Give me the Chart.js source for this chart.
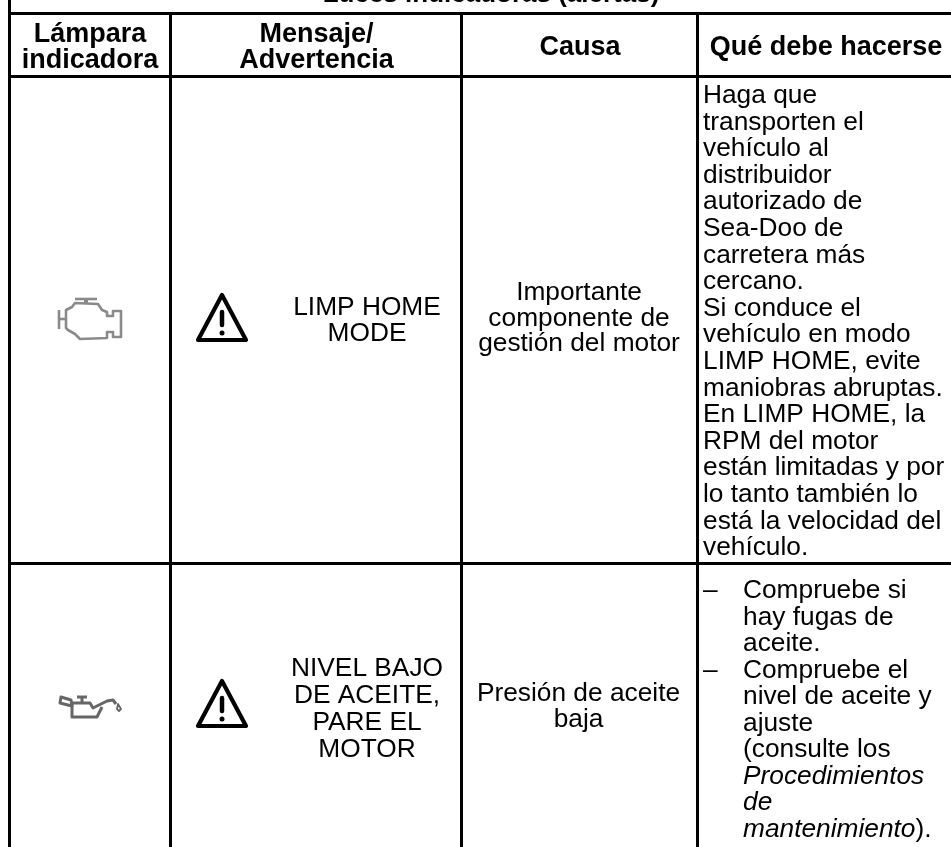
<!DOCTYPE html>
<html><head><meta charset="utf-8">
<style>html,body{margin:0;padding:0;background:#fff}#w{position:relative;width:951px;height:847px;overflow:hidden}canvas{display:block}</style>
<script src="https://cdn.jsdelivr.net/npm/chart.js@4"></script></head>
<body><div id="w"><canvas id="c" width="951" height="847"></canvas></div>
<script>
const FONT='"Liberation Sans"';
const columnRules=[9.5,170.5,461.5,697.5];
const rowRules=[13.5,76.5,563.5];
const titleText=['Luces indicadoras (alertas)'];
const headers=[
 {x:90,y:[41.5,68],t:['Lámpara','indicadora']},
 {x:316.5,y:[41.5,68],t:['Mensaje/','Advertencia']},
 {x:580,y:[55],t:['Causa']},
 {x:826,y:[55],t:['Qué debe hacerse']}];
const messages=[
 {x:367,y:[315,341],t:['LIMP HOME','MODE']},
 {x:367,y:[676,703,730,757],t:['NIVEL BAJO','DE ACEITE,','PARE EL','MOTOR']}];
const causes=[
 {x:579,y:[300,325.5,351],t:['Importante','componente de','gestión del motor']},
 {x:578.5,y:[701,727],t:['Presión de aceite','baja']}];
const actionsA=['Haga que','transporten el','vehículo al','distribuidor','autorizado de','Sea-Doo de','carretera más','cercano.','Si conduce el','vehículo en modo','LIMP HOME, evite','maniobras abruptas.','En LIMP HOME, la','RPM del motor','están limitadas y por','lo tanto también lo','está la velocidad del','vehículo.'];
const actionsB=[['Compruebe si',0],['hay fugas de',0],['aceite.',0],['Compruebe el',0],['nivel de aceite y',0],['ajuste',0],['(consulte los',0],['Procedimientos',1],['de',1],['mantenimiento',1]];
const dashRows=[0,3];

const tablePlugin={id:'table',afterDraw(ch){
 const g=ch.ctx,X=ch.scales.x,Y=ch.scales.y;
 const px=v=>X.getPixelForValue(v),py=v=>Y.getPixelForValue(v);
 g.save();g.textBaseline='alphabetic';g.fillStyle='#000';
 const txt=(s,x,y,f,a)=>{g.font=f;g.textAlign=a||'center';g.fillText(s,px(x),py(y));};
 const B='bold 27px '+FONT,R='26.3px '+FONT,I='italic 26.3px '+FONT;
 txt(titleText[0],491,1.5,'bold 26px '+FONT);
 headers.forEach(h=>h.t.forEach((s,i)=>txt(s,h.x,h.y[i],B)));
 [...messages,...causes].forEach(h=>h.t.forEach((s,i)=>txt(s,h.x,h.y[i],R)));
 actionsA.forEach((s,i)=>txt(s,703,103+i*26.6,R,'left'));
 actionsB.forEach((r,i)=>{txt(r[0],743,598+i*26.55,r[1]?I:R,'left');});
 dashRows.forEach(i=>txt('–',703,598+i*26.55,R,'left'));
 g.font=I;const w2=g.measureText('mantenimiento').width;
 txt(').',743+w2,598+9*26.55,R,'left');
 [[222,340],[222,726]].forEach(([cx,by])=>{
  g.strokeStyle='#000';g.lineJoin='round';g.lineWidth=4.2;g.beginPath();
  g.moveTo(px(cx),py(by-45));g.lineTo(px(cx+24),py(by));g.lineTo(px(cx-24),py(by));g.closePath();g.stroke();
  g.lineWidth=4.5;g.lineCap='round';g.beginPath();g.moveTo(px(cx),py(by-28));g.lineTo(px(cx),py(by-15));g.stroke();
  g.lineWidth=5;g.beginPath();g.moveTo(px(cx),py(by-7));g.lineTo(px(cx),py(by-7.1));g.stroke();
 });
 g.strokeStyle='#8a8a8a';g.lineWidth=2.6;g.lineCap='butt';g.lineJoin='round';
 const path=(pts,close)=>{g.beginPath();pts.forEach((p,i)=>i?g.lineTo(px(p[0]),py(p[1])):g.moveTo(px(p[0]),py(p[1])));if(close)g.closePath();g.stroke();};
 path([[59,310],[59,329]]);path([[59,319],[66,319]]);
 path([[66,310],[72,307],[75,303],[98,304],[102,310],[107,312],[107,316],[113,316],[113,311],[121,311],[121,337],[113,337],[113,332],[107,332],[107,338],[80,339],[75,334],[68,330],[66,328]],true);
 path([[75,299],[97,299]]);
 g.lineWidth=4;path([[86,299],[86,304]]);
 g.strokeStyle='#666';g.lineWidth=3;
 path([[61,697],[71,700],[72,706],[60,703]],true);
 path([[72,703],[72,717],[97,717],[102,707]]);
 path([[72,703],[90,703],[93,708],[107,701],[113,700],[116,704]]);
 path([[77,697],[87,697]]);path([[82,697],[82,703]]);
 g.lineWidth=1.8;path([[118,704],[121,709],[119,711],[117,709]],true);
 g.restore();
}};

const rules=[
 ...columnRules.map((x,i)=>({x0:x,y0:i==0?0:rowRules[0],x1:x,y1:847})),
 ...rowRules.map(y=>({x0:9.5,y0:y,x1:951,y1:y}))];
new Chart(document.getElementById('c'),{
 type:'scatter',
 data:{datasets:rules.map(r=>({data:[{x:r.x0,y:r.y0},{x:r.x1,y:r.y1}],showLine:true,borderColor:'#000',borderWidth:3,pointRadius:0}))},
 options:{responsive:false,animation:false,layout:{padding:0},
  plugins:{legend:{display:false},tooltip:{enabled:false}},
  scales:{x:{type:'linear',min:0,max:951,display:false},y:{type:'linear',min:0,max:847,reverse:true,display:false}}},
 plugins:[tablePlugin]});
</script></body></html>
